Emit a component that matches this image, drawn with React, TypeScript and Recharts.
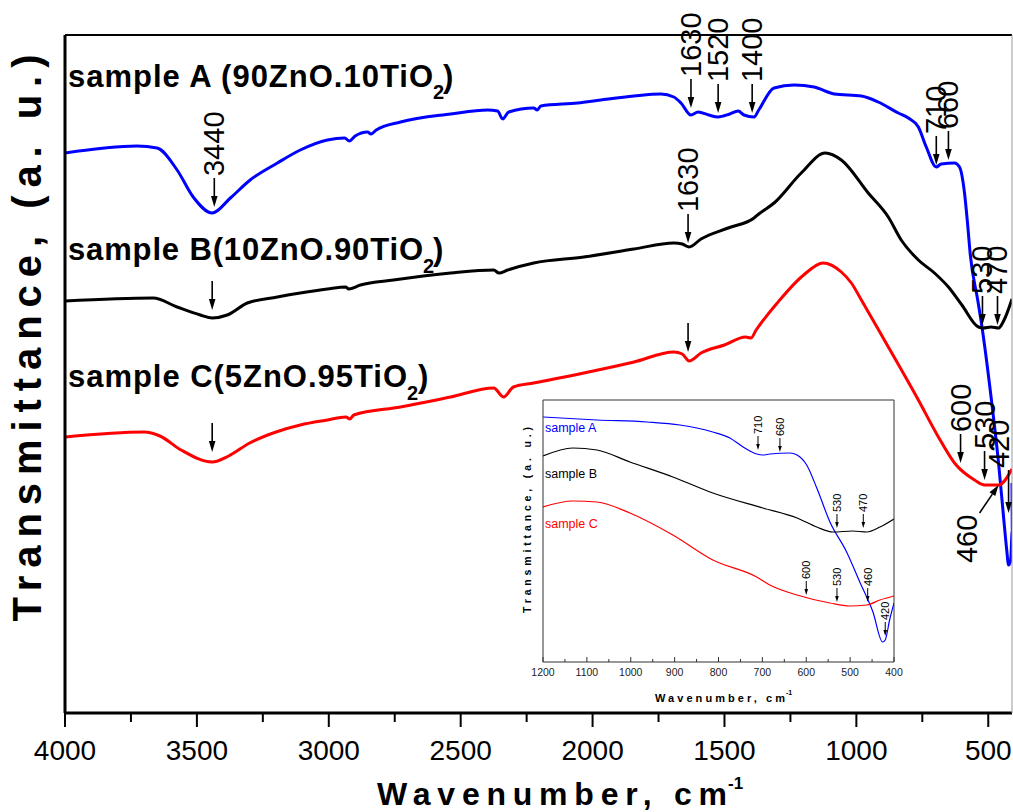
import { LineChart, Line, XAxis, YAxis, ReferenceDot, Customized } from "recharts";

const FONT = "'Liberation Sans', Arial, Helvetica, sans-serif";

// ---- main spectra: wavenumber (cm-1) and transmittance (a.u., arbitrary offset) ----
const aWn = [4000, 3727, 3651, 3575, 3514, 3442, 3373, 3298, 3195, 3108, 3005, 2940, 2922, 2900, 2853, 2840, 2820, 2728, 2538, 2398, 2360, 2341, 2318, 2223, 2210, 2196, 2056, 1969, 1843, 1741, 1692, 1665, 1627, 1600, 1560, 1524, 1480, 1448, 1426, 1388, 1370, 1312, 1236, 1160, 1084, 981, 917, 841, 803, 765, 735, 697, 678, 628, 609, 590, 578, 568, 540, 526, 488, 461, 442, 430, 423, 415, 409, 410];
const aT = [560, 567, 565, 543, 516, 500, 515, 533, 550, 563, 573, 575, 572, 577, 581, 579, 583, 591, 599, 603, 602, 594, 601, 605, 603, 607, 610, 613, 617, 619, 616, 610, 598, 601, 598, 596, 599, 602, 598, 596, 603, 625, 628, 626, 619, 617, 611, 600, 595, 586, 566, 546, 549, 550, 546, 520, 488, 458, 413, 390, 313, 250, 196, 163, 148, 153, 183, 230];

const bWn = [4000, 3666, 3575, 3487, 3442, 3385, 3309, 3195, 3108, 3005, 2935, 2925, 2880, 2755, 2538, 2375, 2355, 2322, 2223, 2033, 1843, 1692, 1660, 1634, 1589, 1486, 1388, 1370, 1312, 1209, 1118, 1057, 955, 879, 830, 765, 704, 651, 600, 537, 518, 490, 461, 440, 410];
const bT = [412, 415, 406, 398, 395, 398, 410, 416, 420, 424, 426, 424, 428, 433, 440, 443, 440, 443, 450, 456, 464, 470, 469, 466, 474, 485, 495, 499, 510, 540, 560, 553, 520, 496, 473, 453, 440, 426, 408, 386, 385, 386, 385, 393, 414];

const cWn = [4000, 3700, 3640, 3560, 3442, 3380, 3300, 3200, 3108, 3005, 2935, 2920, 2905, 2728, 2538, 2375, 2337, 2300, 2223, 2033, 1843, 1692, 1660, 1634, 1589, 1500, 1420, 1400, 1380, 1300, 1200, 1126, 1057, 1019, 981, 894, 765, 689, 628, 552, 514, 461, 410];
const cT = [276, 281, 277, 263, 251, 257, 270, 281, 288, 293, 296, 294, 298, 306, 316, 325, 316, 326, 330, 340, 351, 361, 359, 352, 360, 368, 376, 375, 383, 410, 438, 450, 441, 430, 413, 373, 313, 276, 250, 233, 228, 228, 244];

const mainTicks = [4000, 3750, 3500, 3250, 3000, 2750, 2500, 2250, 2000, 1750, 1500, 1250, 1000, 750, 500];

// peak markers on the main plot
const mainMarks = [
  { label: "3440", wn: 3434, t: 506 },
  { label: "1630", wn: 1627, t: 605 },
  { label: "1520", wn: 1524, t: 600 },
  { label: "1400", wn: 1395, t: 600 },
  { label: "710", wn: 697, t: 548 },
  { label: "660", wn: 651, t: 553 },
  { label: "", wn: 3442, t: 403 },
  { label: "1630", wn: 1638, t: 470 },
  { label: "530", wn: 522, t: 388 },
  { label: "470", wn: 465, t: 388 },
  { label: "", wn: 3442, t: 261 },
  { label: "", wn: 1638, t: 361 },
  { label: "600", wn: 605, t: 250 },
  { label: "530", wn: 514, t: 233 },
  { label: "420", wn: 423, t: 200 },
  { label: "460", wn: 461, t: 228 },
];

// ---- inset (1200-400 cm-1) ----
const iaWn = [1200, 1077, 963, 888, 813, 774, 744, 713, 699, 683, 637, 621, 599, 576, 546, 508, 478, 448, 426, 420, 410, 400];
const iaT = [245, 242, 240, 237, 230, 224, 215, 208, 207, 208, 209, 207, 197, 174, 140, 110, 80, 50, 20, 22, 42, 59];
const ibWn = [1200, 1132, 1077, 1002, 904, 813, 699, 621, 576, 539, 494, 462, 432, 400];
const ibT = [206, 214, 212, 200, 185, 169, 154, 144, 135, 130, 131, 130, 135, 143];
const icWn = [1200, 1132, 1077, 1002, 904, 813, 713, 683, 621, 546, 501, 462, 432, 400];
const icT = [155, 161, 160, 149, 127, 102, 85, 77, 67, 59, 56, 57, 62, 66];

const insetTicks = [1200, 1150, 1100, 1050, 1000, 950, 900, 850, 800, 750, 700, 650, 600, 550, 500, 450, 400];
const insetYTicks = [5, 36, 67, 98, 129, 160, 190, 221, 252];

const insetMarks = [
  { label: "710", wn: 710, t: 212 },
  { label: "660", wn: 660, t: 210 },
  { label: "530", wn: 530, t: 134 },
  { label: "470", wn: 470, t: 134 },
  { label: "600", wn: 600, t: 67 },
  { label: "530", wn: 530, t: 60 },
  { label: "460", wn: 460, t: 60 },
  { label: "420", wn: 420, t: 26 },
];

const zip = (wn: number[], t: number[]) => wn.map((w, i) => ({ wn: w, t: t[i] }));

const sampleA = zip(aWn, aT);
const sampleB = zip(bWn, bT);
const sampleC = zip(cWn, cT);
const insetA = zip(iaWn, iaT);
const insetB = zip(ibWn, ibT);
const insetC = zip(icWn, icT);

function Arrow({ cx, cy, label, len, head, fs, sw, textDx = 0 }: any) {
  const h = head;
  const w = head * 0.6;
  const tail = cy - len;
  const tx = cx + textDx;
  return (
    <g>
      <line x1={cx} x2={cx} y1={tail} y2={cy - h + 1} stroke="#000" strokeWidth={sw} />
      <polygon points={`${cx},${cy} ${cx - w / 2},${cy - h} ${cx + w / 2},${cy - h}`} fill="#000" />
      {label && (
        <text
          x={tx}
          y={tail - 2}
          transform={`rotate(-90 ${tx} ${tail - 2})`}
          textAnchor="start"
          dominantBaseline="central"
          fontSize={fs}
          fontFamily={FONT}
          fill="#000"
        >
          {label}
        </text>
      )}
    </g>
  );
}

function DiagArrow({ cx, cy, label }: any) {
  const tx = cx - 19;
  const ty = cy + 28;
  const dx = cx - tx;
  const dy = cy - ty;
  const L = Math.hypot(dx, dy);
  const ux = dx / L;
  const uy = dy / L;
  const h = 11;
  const w = 3.5;
  const bx = cx - ux * h;
  const by = cy - uy * h;
  return (
    <g>
      <line x1={tx} y1={ty} x2={bx} y2={by} stroke="#000" strokeWidth={1.6} />
      <polygon points={`${cx},${cy} ${bx - uy * w},${by + ux * w} ${bx + uy * w},${by - ux * w}`} fill="#000" />
      <text
        x={cx - 32}
        y={cy + 78}
        transform={`rotate(-90 ${cx - 32} ${cy + 78})`}
        dominantBaseline="central"
        fontSize={29}
        fontFamily={FONT}
        fill="#000"
      >
        {label}
      </text>
    </g>
  );
}

function MainTick(props: any) {
  const { x, y, payload } = props;
  const v = payload.value;
  const major = v % 500 === 0;
  return (
    <g>
      <line x1={x} x2={x} y1={y} y2={y + (major ? 14 : 9)} stroke="#000" strokeWidth={2} />
      {major && (
        <text x={x} y={y + 47} textAnchor="middle" fontSize={28} fontFamily={FONT} fill="#000">
          {v}
        </text>
      )}
    </g>
  );
}

function InsetTick(props: any) {
  const { x, y, payload } = props;
  const v = payload.value;
  const major = v % 100 === 0;
  return (
    <g>
      <line x1={x} x2={x} y1={y} y2={y - (major ? 5 : 3)} stroke="#333" strokeWidth={1} />
      {major && (
        <text x={x} y={y + 14} textAnchor="middle" fontSize={10.5} fontFamily={FONT} fill="#222">
          {v}
        </text>
      )}
    </g>
  );
}

function MainText() {
  return (
    <g fontFamily={FONT} fontWeight="bold" fill="#000">
      <text x={68} y={87} fontSize={31} textLength={365} lengthAdjust="spacing">sample A (90ZnO.10TiO</text>
      <text x={433} y={99} fontSize={20}>2</text>
      <text x={443} y={87} fontSize={31}>)</text>

      <text x={68} y={260} fontSize={31} textLength={355} lengthAdjust="spacing">sample B(10ZnO.90TiO</text>
      <text x={423} y={273} fontSize={20}>2</text>
      <text x={433} y={260} fontSize={31}>)</text>

      <text x={68} y={387} fontSize={31} textLength={339} lengthAdjust="spacing">sample C(5ZnO.95TiO</text>
      <text x={407} y={400} fontSize={20}>2</text>
      <text x={418} y={387} fontSize={31}>)</text>

      <text
        x={41}
        y={338}
        transform="rotate(-90 41 338)"
        textAnchor="middle"
        fontSize={40}
        textLength={567}
        lengthAdjust="spacing"
      >
        Transmittance, (a. u.)
      </text>
      <text x={377} y={805} fontSize={32} textLength={350} lengthAdjust="spacing">Wavenumber, cm</text>
      <text x={728} y={789} fontSize={17}>-1</text>
    </g>
  );
}

function InsetText() {
  return (
    <g fontFamily={FONT}>
      <text x={35} y={42} fontSize={12.5} fill="#0000ff">sample A</text>
      <text x={35} y={88} fontSize={12.5} fill="#000">sample B</text>
      <text x={35} y={138} fontSize={12.5} fill="#ff0000">sample C</text>
      <text
        x={21}
        y={130}
        transform="rotate(-90 21 130)"
        textAnchor="middle"
        fontSize={10.5}
        fontWeight="bold"
        textLength={186}
        lengthAdjust="spacing"
        fill="#000"
      >
        Transmittance, (a. u.)
      </text>
      <text x={145} y={312} fontSize={11} fontWeight="bold" textLength={130} lengthAdjust="spacing" fill="#000">
        Wavenumber, cm
      </text>
      <text x={276} y={305} fontSize={7} fontWeight="bold" fill="#000">-1</text>
    </g>
  );
}

export default function App() {
  return (
    <div style={{ position: "absolute", left: 0, top: 0, width: 1013, height: 812, background: "#fff" }}>
      <LineChart width={1013} height={812} margin={{ top: 34, right: 0, bottom: 0, left: 0 }}>
        <XAxis
          dataKey="wn"
          type="number"
          domain={[410, 4000]}
          reversed
          allowDataOverflow
          ticks={mainTicks}
          interval={0}
          height={99}
          tickSize={0}
          tickMargin={0}
          tickLine={false}
          axisLine={{ stroke: "#000", strokeWidth: 3 }}
          tick={(p: any) => <MainTick {...p} />}
        />
        <XAxis
          xAxisId="top"
          orientation="top"
          dataKey="wn"
          type="number"
          domain={[410, 4000]}
          reversed
          allowDataOverflow
          ticks={mainTicks}
          interval={0}
          height={1}
          tickSize={-4}
          tick={false}
          tickLine={{ stroke: "#000" }}
          axisLine={{ stroke: "#000", strokeWidth: 2 }}
        />
        <YAxis
          type="number"
          domain={[0, 678]}
          allowDataOverflow
          width={65}
          tick={false}
          tickLine={false}
          axisLine={{ stroke: "#000", strokeWidth: 3 }}
        />
        <YAxis
          yAxisId="right"
          orientation="right"
          type="number"
          domain={[0, 678]}
          width={1}
          tick={false}
          tickLine={false}
          axisLine={{ stroke: "#999", strokeWidth: 1 }}
        />
        <Line data={sampleA} dataKey="t" type="monotone" stroke="#0000ff" strokeWidth={3} dot={false} isAnimationActive={false} />
        <Line data={sampleB} dataKey="t" type="monotone" stroke="#000000" strokeWidth={3} dot={false} isAnimationActive={false} />
        <Line data={sampleC} dataKey="t" type="monotone" stroke="#ff0000" strokeWidth={3} dot={false} isAnimationActive={false} />
        {mainMarks.map((m, i) => (
          <ReferenceDot
            key={i}
            x={m.wn}
            y={m.t}
            r={0}
            ifOverflow="visible"
            shape={(p: any) =>
              m.label === "460" ? (
                <DiagArrow cx={p.cx} cy={p.cy} label={m.label} />
              ) : (
                <Arrow
                  cx={p.cx}
                  cy={p.cy}
                  label={m.label}
                  len={m.label === "420" ? 43 : 29}
                  textDx={m.label === "420" ? -10 : 0}
                  head={11}
                  fs={29}
                  sw={1.6}
                />
              )
            }
          />
        ))}
        <Customized component={MainText} />
      </LineChart>

      <div style={{ position: "absolute", left: 510, top: 390, width: 400, height: 320 }}>
        <LineChart width={400} height={320} margin={{ top: 9, right: 15, bottom: 0, left: 0 }}>
          <XAxis
            dataKey="wn"
            type="number"
            domain={[400, 1200]}
            reversed
            allowDataOverflow
            ticks={insetTicks}
            interval={0}
            height={48}
            tickSize={0}
            tickMargin={0}
            tickLine={false}
            axisLine={{ stroke: "#333", strokeWidth: 1 }}
            tick={(p: any) => <InsetTick {...p} />}
          />
          <XAxis
            xAxisId="top"
            orientation="top"
            dataKey="wn"
            type="number"
            domain={[400, 1200]}
            reversed
            ticks={insetTicks}
            interval={0}
            height={1}
            tickSize={-3}
            tick={false}
            tickLine={{ stroke: "#333" }}
            axisLine={{ stroke: "#333", strokeWidth: 1 }}
          />
          <YAxis
            type="number"
            domain={[0, 262]}
            allowDataOverflow
            width={33}
            ticks={insetYTicks}
            interval={0}
            tickSize={-4}
            tick={false}
            tickLine={{ stroke: "#333" }}
            axisLine={{ stroke: "#333", strokeWidth: 1 }}
          />
          <YAxis
            yAxisId="right"
            orientation="right"
            type="number"
            domain={[0, 262]}
            width={1}
            ticks={insetYTicks}
            interval={0}
            tickSize={-4}
            tick={false}
            tickLine={{ stroke: "#333" }}
            axisLine={{ stroke: "#333", strokeWidth: 1 }}
          />
          <Line data={insetA} dataKey="t" type="monotone" stroke="#0000ff" strokeWidth={1.2} dot={false} isAnimationActive={false} />
          <Line data={insetB} dataKey="t" type="monotone" stroke="#000000" strokeWidth={1.2} dot={false} isAnimationActive={false} />
          <Line data={insetC} dataKey="t" type="monotone" stroke="#ff0000" strokeWidth={1.2} dot={false} isAnimationActive={false} />
          {insetMarks.map((m, i) => (
            <ReferenceDot
              key={i}
              x={m.wn}
              y={m.t}
              r={0}
              ifOverflow="visible"
              shape={(p: any) => <Arrow cx={p.cx} cy={p.cy} label={m.label} len={14} head={6} fs={11} sw={1} />}
            />
          ))}
          <Customized component={InsetText} />
        </LineChart>
      </div>
    </div>
  );
}
